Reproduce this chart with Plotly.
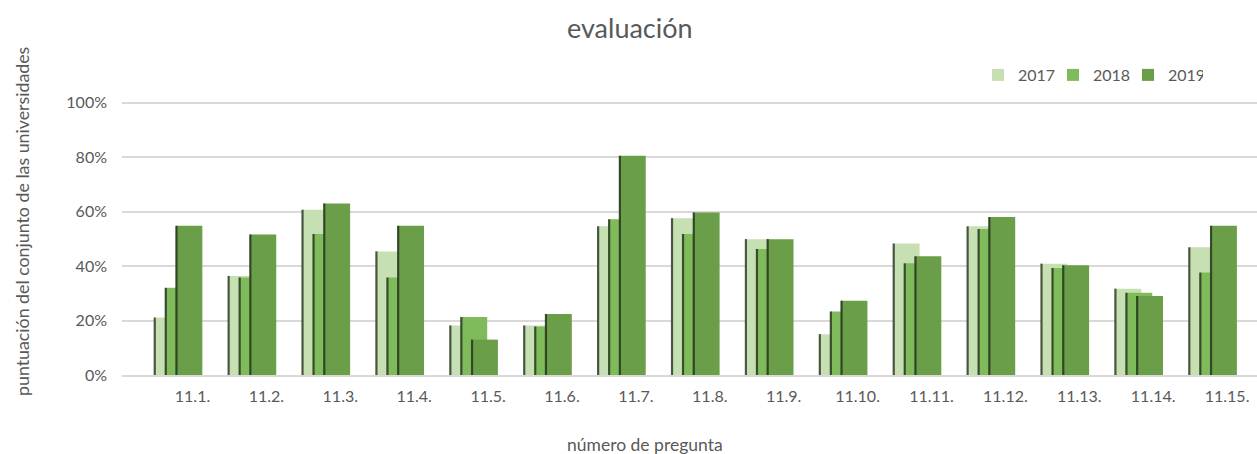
import plotly.graph_objects as go

categories = ["11.1.", "11.2.", "11.3.", "11.4.", "11.5.", "11.6.", "11.7.", "11.8.",
              "11.9.", "11.10.", "11.11.", "11.12.", "11.13.", "11.14.", "11.15."]
y2017 = [0.211, 0.364, 0.607, 0.454, 0.182, 0.182, 0.546, 0.576, 0.499, 0.150, 0.483, 0.546, 0.409, 0.317, 0.469]
y2018 = [0.320, 0.358, 0.518, 0.358, 0.213, 0.178, 0.572, 0.518, 0.463, 0.233, 0.410, 0.536, 0.393, 0.302, 0.376]
y2019 = [0.548, 0.516, 0.630, 0.548, 0.130, 0.224, 0.805, 0.597, 0.499, 0.273, 0.436, 0.580, 0.403, 0.290, 0.548]
years = ["2017", "2018", "2019"]
colors = ["#c6e0b4", "#7fbb5a", "#6b9e49"]

series = [y2017, y2018, y2019]
offsets = [-0.521, -0.372, -0.227]
bar_w = 0.36
edge_w = 0.03
xpos = list(range(len(categories)))

fig = go.Figure()
for name, vals, col, off in zip(years, series, colors, offsets):
    fig.add_trace(go.Bar(x=xpos, y=vals, name=name, marker=dict(color=col, line=dict(width=0)),
                         width=bar_w, offset=off))
    fig.add_trace(go.Bar(x=xpos, y=vals, showlegend=False, hoverinfo="skip",
                         marker=dict(color="rgba(30,40,25,0.75)", line=dict(width=0)),
                         width=edge_w, offset=off - 0.005))

font = "Lato, 'Open Sans', sans-serif"
gray = "#595959"
L, R, T, B = 122, 0, 100, 79
W, H = 1257, 454
pw = W - L - R
ph = H - T - B


def px2paper(px, py):
    return (px - L) / pw, (H - B - py) / ph


tx, ty = px2paper(630, 27)
xx, xy = px2paper(645, 445)
yx, yy = px2paper(22, 222)
lx, ly = px2paper(978, 75)

fig.update_layout(
    width=W, height=H,
    margin=dict(l=L, r=R, t=T, b=B, autoexpand=False),
    barmode="overlay",
    plot_bgcolor="white", paper_bgcolor="white",
    font=dict(family=font, color=gray, size=16),
    showlegend=True,
    legend=dict(orientation="h", x=lx, xanchor="left", y=ly, yanchor="middle",
                font=dict(size=16, color=gray), bgcolor="rgba(0,0,0,0)",
                entrywidth=30, entrywidthmode="pixels", traceorder="normal"),
    annotations=[
        dict(text="evaluación", x=tx, y=ty, xref="paper", yref="paper", showarrow=False,
             xanchor="center", yanchor="middle", font=dict(size=27, color=gray)),
        dict(text="número de pregunta", x=xx, y=xy, xref="paper", yref="paper", showarrow=False,
             xanchor="center", yanchor="middle", font=dict(size=17.5, color=gray)),
        dict(text="puntuación del conjunto de las universidades", x=yx, y=yy, xref="paper", yref="paper",
             showarrow=False, textangle=-90, xanchor="center", yanchor="middle",
             font=dict(size=17.8, color=gray)),
    ],
)

fig.update_xaxes(range=[-0.954, 14.405], tickmode="array", tickvals=xpos, ticktext=categories,
                 showgrid=False, showline=True, linecolor="#d9d9d9", linewidth=1.5,
                 ticks="", ticklabelstandoff=6, tickfont=dict(size=16, color=gray), zeroline=False)
fig.update_yaxes(range=[0, 1.01], tickvals=[0, 0.2, 0.4, 0.6, 0.8, 1.0], tickformat=".0%",
                 showgrid=True, gridcolor="#d9d9d9", gridwidth=1.5, zeroline=False,
                 showline=False, ticks="", ticklabelstandoff=14, tickfont=dict(size=16, color=gray))

fig.write_html("out.html", config={"displayModeBar": False},
               post_script="document.body.style.margin='0px';document.body.style.overflow='hidden';")
